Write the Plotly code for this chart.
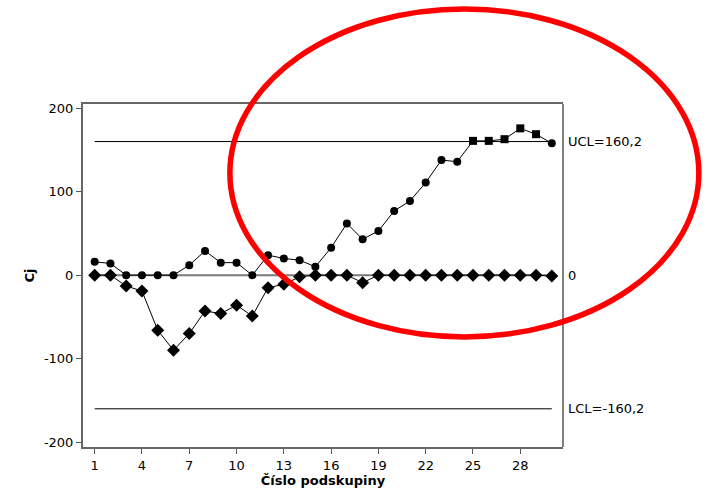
import plotly.graph_objects as go

# Subgroup numbers and CUSUM statistics
subgroups = list(range(1, 31))
cusum_upper = [16, 14, 0, 0, 0, 0, 12, 29, 15, 15, 0, 24, 20, 18, 10,
               33, 62, 43, 53, 77, 89, 111, 138, 136, 161, 161, 163, 176, 169, 158]
cusum_lower = [0, 0, -13, -19, -66, -90, -70, -43, -46, -36, -49, -15, -11, -2, 0,
               0, 0, -9, 0, 0, 0, 0, 0, 0, 0, 0, 0, 0, 0, -1]

ucl = 160.2
lcl = -160.2
center = 0
x_ticks = [1, 4, 7, 10, 13, 16, 19, 22, 25, 28]
y_ticks = [-200, -100, 0, 100, 200]
y_tick_text = ["-200", "-100", "0", "100", "200"]

FONT = "DejaVu Sans"

# points above UCL are drawn as squares
upper_symbols = ["square" if v > ucl else "circle" for v in cusum_upper]

fig = go.Figure()

# control limits and center line
fig.add_trace(go.Scatter(x=[subgroups[0], subgroups[-1]], y=[ucl, ucl], mode="lines",
                         line=dict(color="black", width=1), hoverinfo="skip"))
fig.add_trace(go.Scatter(x=[subgroups[0], subgroups[-1]], y=[lcl, lcl], mode="lines",
                         line=dict(color="black", width=1), hoverinfo="skip"))
fig.add_trace(go.Scatter(x=[subgroups[0], subgroups[-1]], y=[center, center], mode="lines",
                         line=dict(color="#7a7a7a", width=2), hoverinfo="skip"))

fig.add_trace(go.Scatter(x=subgroups, y=cusum_lower, mode="lines+markers",
                         line=dict(color="black", width=1),
                         marker=dict(symbol="diamond", size=10, color="black")))
fig.add_trace(go.Scatter(x=subgroups, y=cusum_upper, mode="lines+markers",
                         line=dict(color="black", width=1),
                         marker=dict(symbol=upper_symbols, size=8, color="black")))

# limit labels to the right of the plot
for val, txt in [(ucl, "UCL=160,2"), (center, "0"), (lcl, "LCL=-160,2")]:
    fig.add_annotation(x=1, xref="paper", y=val, yref="y", text=txt, showarrow=False,
                       xanchor="left", xshift=3, font=dict(family=FONT, size=13, color="black"))

# right frame edge
fig.add_shape(type="line", xref="paper", yref="paper", x0=1, x1=1, y0=0, y1=1,
              line=dict(color="black", width=1))

# red highlight ellipse
fig.add_shape(type="circle", xref="paper", yref="paper",
              x0=0.306, x1=1.283, y0=0.321, y1=1.277,
              line=dict(color="#ff0000", width=5.5), layer="above")

fig.update_layout(
    width=708, height=491,
    margin=dict(l=83, r=145, t=104, b=44),
    paper_bgcolor="white", plot_bgcolor="white",
    showlegend=False,
    font=dict(family=FONT, size=13, color="black"),
)
fig.update_xaxes(range=[0.26, 30.71], tickvals=x_ticks, ticks="outside", ticklen=5,
                 tickcolor="#555", showline=True, linecolor="#666", linewidth=2, mirror=True,
                 showgrid=False, zeroline=False, automargin=False,
                 title=dict(text="<b>Číslo podskupiny</b>", standoff=4,
                            font=dict(family=FONT, size=13)))
fig.update_yaxes(range=[-206, 205.2], tickvals=y_ticks, ticktext=y_tick_text,
                 ticks="outside", ticklen=5,
                 tickcolor="#555", showline=True, linecolor="#666", linewidth=2,
                 showgrid=False, zeroline=False, automargin=False,
                 title=dict(text="<b>Cj</b>", standoff=6,
                            font=dict(family=FONT, size=13)))

fig.write_html("out.html")
